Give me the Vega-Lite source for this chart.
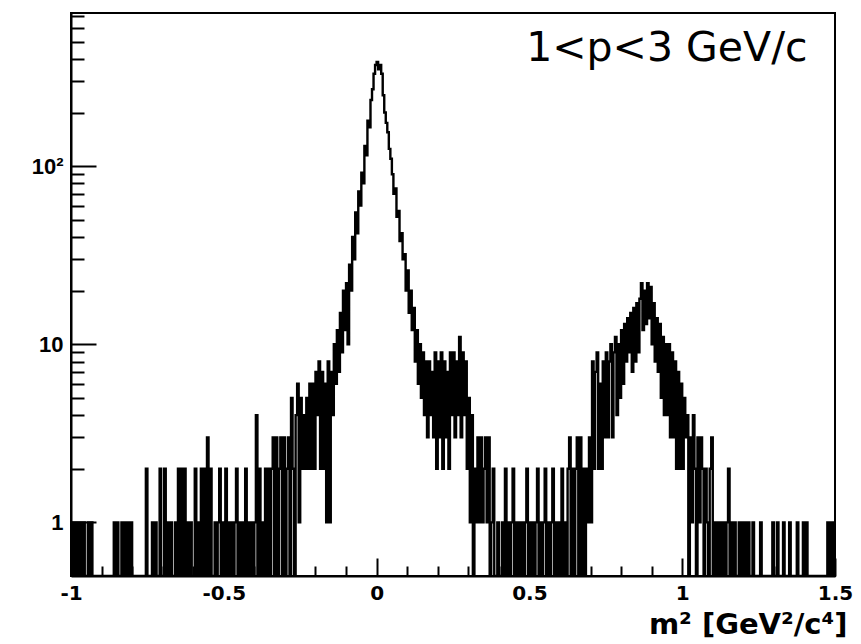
{
"$schema": "https://vega.github.io/schema/vega-lite/v6.json",
"width": 764, "height": 563, "autosize": "none",
"padding": {"left": 71, "top": 13, "right": 26, "bottom": 68},
"background": "white",
"config": {"view": {"stroke": "black", "strokeWidth": 2}, "axis": {"grid": false}},
"data": {"values": [
{"x":-1,"n":1},{"x":-0.995,"n":0},{"x":-0.99,"n":1},{"x":-0.985,"n":0},{"x":-0.98,"n":1},{"x":-0.975,"n":0},{"x":-0.97,"n":1},{"x":-0.965,"n":0},{"x":-0.96,"n":1},{"x":-0.955,"n":0},
{"x":-0.95,"n":0},{"x":-0.945,"n":1},{"x":-0.94,"n":0},{"x":-0.935,"n":1},{"x":-0.93,"n":0},{"x":-0.925,"n":0},{"x":-0.92,"n":0},{"x":-0.915,"n":0},{"x":-0.91,"n":0},{"x":-0.905,"n":0},
{"x":-0.9,"n":0},{"x":-0.895,"n":0},{"x":-0.89,"n":0},{"x":-0.885,"n":0},{"x":-0.88,"n":0},{"x":-0.875,"n":0},{"x":-0.87,"n":0},{"x":-0.865,"n":0},{"x":-0.86,"n":1},{"x":-0.855,"n":0},
{"x":-0.85,"n":1},{"x":-0.845,"n":0},{"x":-0.84,"n":0},{"x":-0.835,"n":1},{"x":-0.83,"n":0},{"x":-0.825,"n":1},{"x":-0.82,"n":0},{"x":-0.815,"n":1},{"x":-0.81,"n":0},{"x":-0.805,"n":1},
{"x":-0.8,"n":0},{"x":-0.795,"n":0},{"x":-0.79,"n":0},{"x":-0.785,"n":0},{"x":-0.78,"n":0},{"x":-0.775,"n":0},{"x":-0.77,"n":0},{"x":-0.765,"n":0},{"x":-0.76,"n":0},{"x":-0.755,"n":2},
{"x":-0.75,"n":0},{"x":-0.745,"n":0},{"x":-0.74,"n":0},{"x":-0.735,"n":1},{"x":-0.73,"n":0},{"x":-0.725,"n":1},{"x":-0.72,"n":0},{"x":-0.715,"n":0},{"x":-0.71,"n":2},{"x":-0.705,"n":0},
{"x":-0.7,"n":0},{"x":-0.695,"n":2},{"x":-0.69,"n":0},{"x":-0.685,"n":1},{"x":-0.68,"n":0},{"x":-0.675,"n":1},{"x":-0.67,"n":0},{"x":-0.665,"n":0},{"x":-0.66,"n":1},{"x":-0.655,"n":0},
{"x":-0.65,"n":2},{"x":-0.645,"n":0},{"x":-0.64,"n":2},{"x":-0.635,"n":0},{"x":-0.63,"n":2},{"x":-0.625,"n":0},{"x":-0.62,"n":1},{"x":-0.615,"n":0},{"x":-0.61,"n":1},{"x":-0.605,"n":0},
{"x":-0.6,"n":0},{"x":-0.595,"n":2},{"x":-0.59,"n":0},{"x":-0.585,"n":1},{"x":-0.58,"n":0},{"x":-0.575,"n":2},{"x":-0.57,"n":0},{"x":-0.565,"n":2},{"x":-0.56,"n":0},{"x":-0.555,"n":3},
{"x":-0.55,"n":0},{"x":-0.545,"n":2},{"x":-0.54,"n":0},{"x":-0.535,"n":0},{"x":-0.53,"n":1},{"x":-0.525,"n":0},{"x":-0.52,"n":1},{"x":-0.515,"n":2},{"x":-0.51,"n":0},{"x":-0.505,"n":1},
{"x":-0.5,"n":0},{"x":-0.495,"n":2},{"x":-0.49,"n":0},{"x":-0.485,"n":1},{"x":-0.48,"n":0},{"x":-0.475,"n":1},{"x":-0.47,"n":0},{"x":-0.465,"n":1},{"x":-0.46,"n":2},{"x":-0.455,"n":0},
{"x":-0.45,"n":1},{"x":-0.445,"n":0},{"x":-0.44,"n":1},{"x":-0.435,"n":0},{"x":-0.43,"n":2},{"x":-0.425,"n":0},{"x":-0.42,"n":1},{"x":-0.415,"n":0},{"x":-0.41,"n":1},{"x":-0.405,"n":0},
{"x":-0.4,"n":1},{"x":-0.395,"n":4},{"x":-0.39,"n":0},{"x":-0.385,"n":2},{"x":-0.38,"n":0},{"x":-0.375,"n":1},{"x":-0.37,"n":0},{"x":-0.365,"n":2},{"x":-0.36,"n":0},{"x":-0.355,"n":2},
{"x":-0.35,"n":0},{"x":-0.345,"n":2},{"x":-0.34,"n":3},{"x":-0.335,"n":0},{"x":-0.33,"n":3},{"x":-0.325,"n":0},{"x":-0.32,"n":2},{"x":-0.315,"n":3},{"x":-0.31,"n":0},{"x":-0.305,"n":3},
{"x":-0.3,"n":0},{"x":-0.295,"n":2},{"x":-0.29,"n":3},{"x":-0.285,"n":0},{"x":-0.28,"n":5},{"x":-0.275,"n":2},{"x":-0.27,"n":0},{"x":-0.265,"n":4},{"x":-0.26,"n":6},{"x":-0.255,"n":1},
{"x":-0.25,"n":5},{"x":-0.245,"n":2},{"x":-0.24,"n":4},{"x":-0.235,"n":2},{"x":-0.23,"n":5},{"x":-0.225,"n":2},{"x":-0.22,"n":6},{"x":-0.215,"n":2},{"x":-0.21,"n":6},{"x":-0.205,"n":2},
{"x":-0.2,"n":7},{"x":-0.195,"n":4},{"x":-0.19,"n":8},{"x":-0.185,"n":2},{"x":-0.18,"n":7},{"x":-0.175,"n":2},{"x":-0.17,"n":6},{"x":-0.165,"n":1},{"x":-0.16,"n":8},{"x":-0.155,"n":1},
{"x":-0.15,"n":7},{"x":-0.145,"n":4},{"x":-0.14,"n":10},{"x":-0.135,"n":6},{"x":-0.13,"n":12},{"x":-0.125,"n":7},{"x":-0.12,"n":15},{"x":-0.115,"n":9},{"x":-0.11,"n":20},{"x":-0.105,"n":12},
{"x":-0.1,"n":22},{"x":-0.095,"n":10},{"x":-0.09,"n":28},{"x":-0.085,"n":20},{"x":-0.08,"n":40},{"x":-0.075,"n":30},{"x":-0.07,"n":55},{"x":-0.065,"n":42},{"x":-0.06,"n":72},{"x":-0.055,"n":60},
{"x":-0.05,"n":92},{"x":-0.045,"n":80},{"x":-0.04,"n":130},{"x":-0.035,"n":115},{"x":-0.03,"n":180},{"x":-0.025,"n":165},{"x":-0.02,"n":235},{"x":-0.015,"n":270},{"x":-0.01,"n":330},{"x":-0.005,"n":370},
{"x":0,"n":385},{"x":0.005,"n":350},{"x":0.01,"n":370},{"x":0.015,"n":330},{"x":0.02,"n":250},{"x":0.025,"n":200},{"x":0.03,"n":175},{"x":0.035,"n":155},{"x":0.04,"n":125},{"x":0.045,"n":110},
{"x":0.05,"n":90},{"x":0.055,"n":70},{"x":0.06,"n":75},{"x":0.065,"n":52},{"x":0.07,"n":56},{"x":0.075,"n":38},{"x":0.08,"n":42},{"x":0.085,"n":30},{"x":0.09,"n":32},{"x":0.095,"n":20},
{"x":0.1,"n":26},{"x":0.105,"n":15},{"x":0.11,"n":20},{"x":0.115,"n":12},{"x":0.12,"n":16},{"x":0.125,"n":8},{"x":0.13,"n":12},{"x":0.135,"n":6},{"x":0.14,"n":10},{"x":0.145,"n":5},
{"x":0.15,"n":9},{"x":0.155,"n":4},{"x":0.16,"n":8},{"x":0.165,"n":3},{"x":0.17,"n":8},{"x":0.175,"n":4},{"x":0.18,"n":7},{"x":0.185,"n":3},{"x":0.19,"n":9},{"x":0.195,"n":2},
{"x":0.2,"n":8},{"x":0.205,"n":3},{"x":0.21,"n":9},{"x":0.215,"n":2},{"x":0.22,"n":8},{"x":0.225,"n":3},{"x":0.23,"n":7},{"x":0.235,"n":2},{"x":0.24,"n":9},{"x":0.245,"n":4},
{"x":0.25,"n":9},{"x":0.255,"n":3},{"x":0.26,"n":8},{"x":0.265,"n":4},{"x":0.27,"n":11},{"x":0.275,"n":3},{"x":0.28,"n":9},{"x":0.285,"n":4},{"x":0.29,"n":8},{"x":0.295,"n":2},
{"x":0.3,"n":5},{"x":0.305,"n":1},{"x":0.31,"n":4},{"x":0.315,"n":0},{"x":0.32,"n":2},{"x":0.325,"n":1},{"x":0.33,"n":3},{"x":0.335,"n":1},{"x":0.34,"n":3},{"x":0.345,"n":1},
{"x":0.35,"n":2},{"x":0.355,"n":3},{"x":0.36,"n":1},{"x":0.365,"n":3},{"x":0.37,"n":0},{"x":0.375,"n":1},{"x":0.38,"n":2},{"x":0.385,"n":0},{"x":0.39,"n":0},{"x":0.395,"n":1},
{"x":0.4,"n":0},{"x":0.405,"n":0},{"x":0.41,"n":1},{"x":0.415,"n":0},{"x":0.42,"n":2},{"x":0.425,"n":0},{"x":0.43,"n":1},{"x":0.435,"n":0},{"x":0.44,"n":1},{"x":0.445,"n":2},
{"x":0.45,"n":0},{"x":0.455,"n":1},{"x":0.46,"n":0},{"x":0.465,"n":1},{"x":0.47,"n":0},{"x":0.475,"n":1},{"x":0.48,"n":0},{"x":0.485,"n":1},{"x":0.49,"n":2},{"x":0.495,"n":0},
{"x":0.5,"n":1},{"x":0.505,"n":0},{"x":0.51,"n":1},{"x":0.515,"n":0},{"x":0.52,"n":1},{"x":0.525,"n":2},{"x":0.53,"n":0},{"x":0.535,"n":1},{"x":0.54,"n":0},{"x":0.545,"n":1},
{"x":0.55,"n":2},{"x":0.555,"n":0},{"x":0.56,"n":1},{"x":0.565,"n":0},{"x":0.57,"n":1},{"x":0.575,"n":2},{"x":0.58,"n":0},{"x":0.585,"n":1},{"x":0.59,"n":0},{"x":0.595,"n":1},
{"x":0.6,"n":0},{"x":0.605,"n":2},{"x":0.61,"n":0},{"x":0.615,"n":1},{"x":0.62,"n":0},{"x":0.625,"n":2},{"x":0.63,"n":3},{"x":0.635,"n":0},{"x":0.64,"n":2},{"x":0.645,"n":0},
{"x":0.65,"n":2},{"x":0.655,"n":3},{"x":0.66,"n":0},{"x":0.665,"n":3},{"x":0.67,"n":0},{"x":0.675,"n":2},{"x":0.68,"n":0},{"x":0.685,"n":2},{"x":0.69,"n":1},{"x":0.695,"n":3},
{"x":0.7,"n":1},{"x":0.705,"n":8},{"x":0.71,"n":2},{"x":0.715,"n":7},{"x":0.72,"n":9},{"x":0.725,"n":2},{"x":0.73,"n":6},{"x":0.735,"n":2},{"x":0.74,"n":8},{"x":0.745,"n":3},
{"x":0.75,"n":9},{"x":0.755,"n":3},{"x":0.76,"n":8},{"x":0.765,"n":10},{"x":0.77,"n":3},{"x":0.775,"n":9},{"x":0.78,"n":11},{"x":0.785,"n":4},{"x":0.79,"n":10},{"x":0.795,"n":5},
{"x":0.8,"n":12},{"x":0.805,"n":6},{"x":0.81,"n":13},{"x":0.815,"n":8},{"x":0.82,"n":14},{"x":0.825,"n":9},{"x":0.83,"n":15},{"x":0.835,"n":7},{"x":0.84,"n":16},{"x":0.845,"n":8},
{"x":0.85,"n":17},{"x":0.855,"n":9},{"x":0.86,"n":18},{"x":0.865,"n":22},{"x":0.87,"n":12},{"x":0.875,"n":20},{"x":0.88,"n":13},{"x":0.885,"n":22},{"x":0.89,"n":14},{"x":0.895,"n":21},
{"x":0.9,"n":10},{"x":0.905,"n":17},{"x":0.91,"n":8},{"x":0.915,"n":14},{"x":0.92,"n":7},{"x":0.925,"n":13},{"x":0.93,"n":5},{"x":0.935,"n":11},{"x":0.94,"n":4},{"x":0.945,"n":10},
{"x":0.95,"n":4},{"x":0.955,"n":10},{"x":0.96,"n":3},{"x":0.965,"n":9},{"x":0.97,"n":3},{"x":0.975,"n":8},{"x":0.98,"n":2},{"x":0.985,"n":7},{"x":0.99,"n":2},{"x":0.995,"n":6},
{"x":1,"n":2},{"x":1.005,"n":5},{"x":1.01,"n":3},{"x":1.015,"n":4},{"x":1.02,"n":0},{"x":1.025,"n":3},{"x":1.03,"n":1},{"x":1.035,"n":4},{"x":1.04,"n":2},{"x":1.045,"n":0},
{"x":1.05,"n":3},{"x":1.055,"n":1},{"x":1.06,"n":3},{"x":1.065,"n":2},{"x":1.07,"n":0},{"x":1.075,"n":2},{"x":1.08,"n":1},{"x":1.085,"n":0},{"x":1.09,"n":2},{"x":1.095,"n":3},
{"x":1.1,"n":0},{"x":1.105,"n":1},{"x":1.11,"n":0},{"x":1.115,"n":1},{"x":1.12,"n":0},{"x":1.125,"n":1},{"x":1.13,"n":0},{"x":1.135,"n":1},{"x":1.14,"n":0},{"x":1.145,"n":1},
{"x":1.15,"n":2},{"x":1.155,"n":0},{"x":1.16,"n":1},{"x":1.165,"n":0},{"x":1.17,"n":1},{"x":1.175,"n":0},{"x":1.18,"n":0},{"x":1.185,"n":1},{"x":1.19,"n":0},{"x":1.195,"n":1},
{"x":1.2,"n":0},{"x":1.205,"n":1},{"x":1.21,"n":0},{"x":1.215,"n":1},{"x":1.22,"n":0},{"x":1.225,"n":0},{"x":1.23,"n":1},{"x":1.235,"n":0},{"x":1.24,"n":0},{"x":1.245,"n":0},
{"x":1.25,"n":0},{"x":1.255,"n":1},{"x":1.26,"n":0},{"x":1.265,"n":0},{"x":1.27,"n":0},{"x":1.275,"n":0},{"x":1.28,"n":0},{"x":1.285,"n":0},{"x":1.29,"n":0},{"x":1.295,"n":1},
{"x":1.3,"n":0},{"x":1.305,"n":0},{"x":1.31,"n":1},{"x":1.315,"n":0},{"x":1.32,"n":0},{"x":1.325,"n":0},{"x":1.33,"n":1},{"x":1.335,"n":0},{"x":1.34,"n":0},{"x":1.345,"n":0},
{"x":1.35,"n":1},{"x":1.355,"n":0},{"x":1.36,"n":0},{"x":1.365,"n":0},{"x":1.37,"n":0},{"x":1.375,"n":1},{"x":1.38,"n":0},{"x":1.385,"n":0},{"x":1.39,"n":0},{"x":1.395,"n":1},
{"x":1.4,"n":0},{"x":1.405,"n":1},{"x":1.41,"n":0},{"x":1.415,"n":0},{"x":1.42,"n":0},{"x":1.425,"n":0},{"x":1.43,"n":0},{"x":1.435,"n":0},{"x":1.44,"n":0},{"x":1.445,"n":0},
{"x":1.45,"n":0},{"x":1.455,"n":0},{"x":1.46,"n":0},{"x":1.465,"n":0},{"x":1.47,"n":0},{"x":1.475,"n":1},{"x":1.48,"n":0},{"x":1.485,"n":1},{"x":1.49,"n":0},{"x":1.495,"n":1},
{"x":1.5,"n":1}
]},
"layer": [
{"mark": {"type": "line", "interpolate": "step-after", "color": "black", "strokeWidth": 2.4, "invalid": null, "clip": true},
 "encoding": {
  "x": {"field": "x", "type": "quantitative", "scale": {"domain": [-1, 1.5], "nice": false, "zero": false},
        "axis": {"orient": "bottom", "zindex": 1, "ticks": true, "tickCount": 100, "values": [-1, -0.5, 0, 0.5, 1, 1.5], "tickSize": -18, "tickWidth": 2, "tickColor": "black", "domainColor": "black", "domainWidth": 2,
                 "labelFont": "DejaVu Sans", "labelFontWeight": "bold", "labelFontSize": 20, "labelColor": "black", "labelPadding": 25, "labelFlush": false, "labelOverlap": false, "labelBaseline": "top",
                 "labelExpr": "replace(format(datum.value, '~g'), '\u2212', '-')",
                 "title": "m² [GeV²/c⁴]", "titleFont": "DejaVu Sans", "titleFontWeight": "bold", "titleFontSize": 29, "titleColor": "black",
                 "titleAlign": "right", "titleAnchor": "end", "titleX": 776, "titleY": 57, "titleBaseline": "alphabetic"}},
  "y": {"field": "n", "type": "quantitative", "scale": {"type": "log", "domain": [0.5, 724], "nice": false, "clamp": true},
        "axis": {"orient": "left", "zindex": 1, "ticks": true, "tickCount": 100, "values": [1, 10, 100], "tickSize": -25, "tickWidth": 2, "tickColor": "black", "domainColor": "black", "domainWidth": 2,
                 "labelFont": "Liberation Sans", "labelFontWeight": "bold", "labelFontSize": 22, "labelColor": "black", "labelPadding": 33, "labelFlush": false, "labelOverlap": false,
                 "labelExpr": "datum.value == 100 ? '10²' : format(datum.value, 'd')", "title": null}}
 }},
{"mark": {"type": "line", "interpolate": "step-after", "opacity": 0, "invalid": null},
 "encoding": {
  "x": {"field": "x", "type": "quantitative",
        "axis": {"orient": "bottom", "zindex": 1, "ticks": true, "tickCount": 100, "values": [-0.9,-0.8,-0.7,-0.6,-0.4,-0.3,-0.2,-0.1,0.1,0.2,0.3,0.4,0.6,0.7,0.8,0.9,1.1,1.2,1.3,1.4], "tickSize": -10, "tickWidth": 2, "tickColor": "black", "domain": false, "labels": false, "title": null}},
  "y": {"field": "n", "type": "quantitative",
        "axis": {"orient": "left", "zindex": 1, "ticks": true, "tickCount": 100, "values": [0.6,0.7,0.8,0.9,2,3,4,5,6,7,8,9,20,30,40,50,60,70,80,90,200,300,400,500,600,700], "tickSize": -13, "tickWidth": 2, "tickColor": "black", "domain": false, "labels": false, "title": null}}
 }},
{"data": {"values": [{}]},
 "mark": {"type": "text", "text": "1<p<3 GeV/c", "font": "DejaVu Sans", "fontSize": 41, "align": "right", "baseline": "alphabetic", "color": "black"},
 "encoding": {
  "x": {"datum": 1.41, "type": "quantitative", "axis": null},
  "y": {"datum": 390, "type": "quantitative", "axis": null}
 }}
],
"resolve": {"axis": {"x": "independent", "y": "independent"}}
}
